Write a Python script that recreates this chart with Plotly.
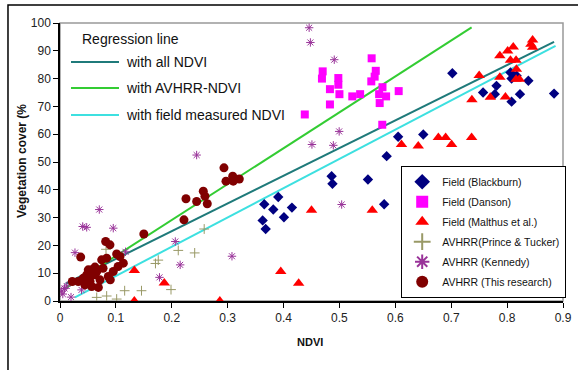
import plotly.graph_objects as go

# ---------------- data ----------------
blackburn_x = [0.3626, 0.3655, 0.368, 0.3816, 0.3905, 0.4007, 0.415, 0.486, 0.4875, 0.551, 0.580,
               0.5845, 0.605, 0.650, 0.702, 0.757, 0.781, 0.778, 0.806, 0.808, 0.817, 0.838, 0.823,
               0.808, 0.884]
blackburn_y = [29.0, 34.8, 25.9, 32.9, 37.4, 30.1, 33.6, 44.9, 42.2, 43.7, 34.8,
               52.1, 59.1, 59.9, 81.9, 75.0, 77.4, 74.4, 82.2, 80.0, 81.0, 79.2, 74.4,
               71.7, 74.6]

danson_x = [0.5576, 0.470, 0.4687, 0.498, 0.498, 0.483, 0.500, 0.523, 0.537, 0.483, 0.438,
            0.565, 0.563, 0.557, 0.577, 0.571, 0.5835, 0.572, 0.606, 0.5766]
danson_y = [87.3, 82.6, 80.0, 80.2, 77.8, 76.2, 74.4, 73.6, 74.4, 70.7, 67.1,
            82.8, 80.7, 79.0, 76.9, 74.4, 73.6, 71.2, 75.5, 63.4]

malthus_x = [0.133, 0.133, 0.1866, 0.286, 0.395, 0.427, 0.450, 0.5587, 0.611, 0.641, 0.677,
             0.690, 0.7007, 0.7365, 0.737, 0.750, 0.770, 0.787, 0.801, 0.811, 0.806, 0.816,
             0.8167, 0.787, 0.816, 0.822, 0.797, 0.8456, 0.8456, 0.8426]
malthus_y = [11.0, 0.0, 6.5, 0.0, 10.6, 6.4, 32.6, 32.6, 56.3, 55.8, 58.8,
             58.8, 56.3, 58.8, 72.4, 81.1, 73.3, 88.2, 89.9, 91.4, 86.6, 86.6,
             83.4, 80.5, 79.8, 79.8, 73.4, 93.9, 91.3, 92.4]

prince_x = [0.0657, 0.0835, 0.1014, 0.1157, 0.1458, 0.1708, 0.1758, 0.1986, 0.2116, 0.241,
            0.258, 0.0823]
prince_y = [1.3, 1.8, 0.7, 3.7, 3.7, 13.5, 14.7, 4.1, 18.2, 17.3, 25.9, 18.6]

kennedy_x = [0.003, 0.005, 0.012, 0.0197, 0.0268, 0.0385, 0.0406, 0.0478, 0.0703, 0.0953,
             0.1172, 0.178, 0.2063, 0.215, 0.3077, 0.2445, 0.4458, 0.448, 0.4907, 0.4995,
             0.4508, 0.489, 0.504, 0.068, 0.008]
kennedy_y = [3.6, 2.5, 5.4, 1.4, 17.4, 4.0, 26.8, 26.5, 32.9, 26.2,
             17.7, 8.5, 21.4, 13.0, 16.1, 52.5, 98.3, 93.0, 86.8, 61.0,
             56.3, 56.0, 34.7, 5.0, 4.5]

research_x = [0.150, 0.0817, 0.0894, 0.037, 0.1014, 0.1073, 0.0746, 0.0835, 0.1133, 0.104,
              0.0626, 0.0506, 0.0567, 0.0657, 0.0953, 0.0477, 0.0537, 0.0626, 0.0864, 0.0417,
              0.0716, 0.0537, 0.022, 0.0327, 0.0447, 0.0567, 0.0686, 0.0900, 0.0770,
              0.2218, 0.2254, 0.2445, 0.2564, 0.2594, 0.2635, 0.2934, 0.297, 0.309, 0.310, 0.3208]
research_y = [24.1, 21.4, 20.2, 15.8, 16.9, 16.0, 14.8, 15.4, 13.6, 12.4,
              12.2, 11.2, 11.2, 10.6, 10.6, 9.4, 8.8, 9.4, 8.8, 8.2,
              7.6, 7.0, 7.0, 7.0, 5.8, 5.2, 4.9, 7.6, 11.8,
              29.2, 36.8, 35.8, 39.5, 37.7, 35.0, 47.9, 43.1, 44.9, 43.1, 43.9]

# regression lines (end points)
line_all_x = [0.010, 0.884]
line_all_y = [6.2, 93.2]
line_avhrr_x = [0.010, 0.7365]
line_avhrr_y = [4.6, 98.4]
line_field_x = [0.0268, 0.8867]
line_field_y = [1.3, 91.8]

x_ticks = [0, 0.1, 0.2, 0.3, 0.4, 0.5, 0.6, 0.7, 0.8, 0.9]
x_tick_labels = ["0", "0.1", "0.2", "0.3", "0.4", "0.5", "0.6", "0.7", "0.8", "0.9"]
y_ticks = [0, 10, 20, 30, 40, 50, 60, 70, 80, 90, 100]

series_names = ["Field (Blackburn)", "Field (Danson)", "Field (Malthus et al.)",
                "AVHRR(Prince & Tucker)", "AVHRR (Kennedy)", "AVHRR (This research)"]
reg_names = ["with all NDVI", "with AVHRR-NDVI", "with field measured NDVI"]

# ---------------- figure ----------------
FONT = "Liberation Sans Narrow, Arial Narrow, Liberation Sans, Arial, sans-serif"
TEAL = "#1f7a7a"
GREEN = "#33cc33"
CYAN = "#3de0e0"

fig = go.Figure()

for lx, ly, col, nm in [(line_all_x, line_all_y, TEAL, reg_names[0]),
                        (line_avhrr_x, line_avhrr_y, GREEN, reg_names[1]),
                        (line_field_x, line_field_y, CYAN, reg_names[2])]:
    fig.add_trace(go.Scatter(x=lx, y=ly, mode="lines", name=nm,
                             line=dict(color=col, width=2), showlegend=False,
                             hoverinfo="skip"))

markers = [
    (blackburn_x, blackburn_y, dict(symbol="diamond", color="#000080", size=8)),
    (danson_x, danson_y, dict(symbol="square", color="#ff00ff", size=8)),
    (malthus_x, malthus_y, dict(symbol="triangle-up", color="#ff0000", size=10)),
    (prince_x, prince_y, dict(symbol="cross-thin", color="#999966", size=7,
                              line=dict(color="#999966", width=1))),
    (kennedy_x, kennedy_y, dict(symbol="asterisk", color="#993399", size=7,
                                line=dict(color="#993399", width=1))),
    (research_x, research_y, dict(symbol="circle", color="#800000", size=9)),
]
for i, ((mx, my, mk), nm) in enumerate(zip(markers, series_names)):
    fig.add_trace(go.Scatter(x=mx, y=my, mode="markers", name=nm, marker=mk,
                             legendgroup="g%d" % i))

# plot area frame (grey top/right), outer black frame
shapes = [
    dict(type="rect", xref="x domain", yref="y domain", x0=0, y0=0, x1=1, y1=1,
         line=dict(color="#999999", width=1.5), layer="below"),
    dict(type="rect", xref="paper", yref="paper", x0=-0.1034, y0=-0.5, x1=1.2, y1=1.065,
         line=dict(color="black", width=1.5)),
]

# regression-line key (top-left)
def px2paper(px, py):
    return (px - 60) / 503.0, (301 - py) / 278.0

annotations = []
ax_, ay_ = px2paper(80, 39)
annotations.append(dict(text="Regression line", x=ax_, y=ay_, xref="paper", yref="paper",
                        xanchor="left", yanchor="middle", showarrow=False,
                        font=dict(family=FONT, size=14, color="#111")))
for (py, col, nm) in [(62, TEAL, reg_names[0]), (88, GREEN, reg_names[1]), (115, CYAN, reg_names[2])]:
    x0, yy = px2paper(71, py)
    x1, _ = px2paper(119, py)
    shapes.append(dict(type="line", xref="paper", yref="paper", x0=x0, x1=x1, y0=yy, y1=yy,
                       line=dict(color=col, width=2)))
    tx, _ = px2paper(124, py)
    annotations.append(dict(text=nm, x=tx, y=yy, xref="paper", yref="paper",
                            xanchor="left", yanchor="middle", showarrow=False,
                            font=dict(family=FONT, size=14, color="#111")))

# axis titles
tx, ty = px2paper(22, 161)
annotations.append(dict(text="<b>Vegetation cover (%</b>", x=tx, y=ty, xref="paper", yref="paper",
                        textangle=-90, showarrow=False, xanchor="center", yanchor="middle",
                        font=dict(family=FONT, size=12, color="#111")))
tx, ty = px2paper(310, 342)
annotations.append(dict(text="<b>NDVI</b>", x=tx, y=ty, xref="paper", yref="paper",
                        showarrow=False, xanchor="center", yanchor="middle",
                        font=dict(family=FONT, size=11, color="#111")))

lx, ly = px2paper(401, 166)
fig.update_layout(
    width=578, height=370,
    margin=dict(l=60, r=15, t=23, b=69, autoexpand=False),
    paper_bgcolor="white", plot_bgcolor="white",
    font=dict(family=FONT, size=12, color="#222"),
    xaxis=dict(range=[0, 0.9], tickvals=x_ticks, ticktext=x_tick_labels, showgrid=False,
               zeroline=False, showline=True, linecolor="black", linewidth=1.5,
               ticks="outside", ticklen=5, tickcolor="black",
               tickfont=dict(family=FONT, size=12, color="#222")),
    yaxis=dict(range=[0, 100], tickvals=y_ticks, showgrid=False, zeroline=False,
               showline=True, linecolor="black", linewidth=1.5,
               ticks="outside", ticklen=5, tickcolor="black",
               tickfont=dict(family=FONT, size=12, color="#222")),
    legend=dict(x=lx, y=ly, xanchor="left", yanchor="top", bgcolor="white",
                bordercolor="black", borderwidth=1.2, traceorder="grouped",
                tracegroupgap=1, itemwidth=30, itemsizing="constant",
                font=dict(family=FONT, size=10.5, color="#111")),
    shapes=shapes, annotations=annotations,
)

fig.write_html("out.html", config={"displayModeBar": False},
               post_script="document.body.style.margin='0';document.body.style.padding='0';")
